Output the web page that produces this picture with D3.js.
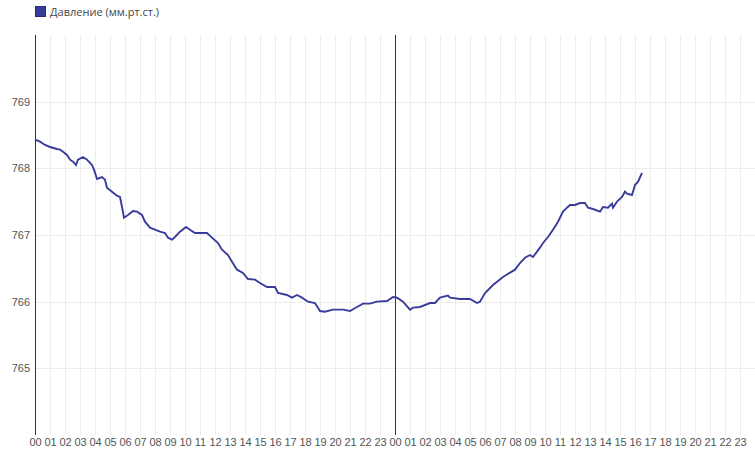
<!DOCTYPE html>
<html>
<head>
<meta charset="utf-8">
<script src="https://cdn.jsdelivr.net/npm/d3@7"></script>
<style>
  body { margin: 0; background: #fff; font-family: "Open Sans", sans-serif; }
  .grid line { stroke: #ececec; shape-rendering: crispEdges; }
  .tick text { fill: #555; font-size: 11px; }
</style>
</head>
<body>
<svg id="chart" width="755" height="451"></svg>
<script>
let seriesName = "Давление (мм.рт.ст.)";
let lineColor = "#3a3c9c";
let startDay = new Date(2024, 0, 1, 0, 0);

// hours since the first midnight
let hoursFromStart = [0, 0.33, 0.67, 1, 1.47, 1.67, 1.87, 2.13, 2.33, 2.53, 2.73, 2.87, 3.2, 3.47, 3.8, 3.93,
  4.13, 4.47, 4.67, 4.8, 5.13, 5.47, 5.67, 5.8, 5.93, 6.2, 6.53, 6.8, 7.13, 7.33, 7.67, 8, 8.33, 8.67, 8.87,
  9.13, 9.33, 9.67, 10.07, 10.33, 10.67, 11, 11.47, 11.8, 12.2, 12.47, 12.87, 13.13, 13.47, 13.87, 14.2,
  14.67, 15, 15.47, 16, 16.2, 16.8, 17.13, 17.47, 17.8, 18.2, 18.67, 19, 19.33, 19.87, 20.53, 21, 21.47,
  21.87, 22.33, 22.8, 23.47, 23.87, 24.13, 24.53, 25, 25.2, 25.67, 26.33, 26.67, 27, 27.53, 27.67, 28.33,
  29, 29.47, 29.67, 30, 30.53, 31.2, 32, 32.33, 32.67, 33, 33.2, 33.47, 33.67, 33.87, 34.2, 34.53, 34.87,
  35.2, 35.47, 35.67, 36, 36.33, 36.67, 36.87, 37.2, 37.67, 37.87, 38.2, 38.47, 38.53, 38.8, 39.13, 39.33,
  39.47, 39.8, 40, 40.2, 40.47];

let pressure = [768.43, 768.40, 768.35, 768.32, 768.29, 768.28, 768.25, 768.20, 768.13, 768.10, 768.05, 768.13,
  768.17, 768.13, 768.05, 767.98, 767.84, 767.87, 767.83, 767.71, 767.65, 767.59, 767.57, 767.42, 767.26,
  767.30, 767.36, 767.35, 767.30, 767.20, 767.11, 767.08, 767.05, 767.03, 766.96, 766.93, 766.97, 767.05,
  767.12, 767.08, 767.03, 767.03, 767.03, 766.96, 766.88, 766.78, 766.70, 766.60, 766.48, 766.43, 766.34,
  766.33, 766.28, 766.22, 766.22, 766.13, 766.10, 766.06, 766.10, 766.06, 766.00, 765.98, 765.86, 765.85,
  765.88, 765.88, 765.86, 765.92, 765.97, 765.97, 766.00, 766.01, 766.07, 766.06, 766.00, 765.88, 765.91,
  765.92, 765.98, 765.98, 766.06, 766.09, 766.06, 766.04, 766.04, 765.98, 766.00, 766.13, 766.25, 766.37,
  766.48, 766.58, 766.66, 766.70, 766.67, 766.75, 766.81, 766.88, 766.97, 767.08, 767.20, 767.35, 767.41,
  767.45, 767.45, 767.48, 767.48, 767.41, 767.39, 767.35, 767.42, 767.41, 767.47, 767.41, 767.50, 767.57,
  767.65, 767.62, 767.60, 767.75, 767.80, 767.93];

let yTicks = [765, 766, 767, 768, 769];

let data = hoursFromStart.map(function(h, i) {
  return { t: d3.timeMinute.offset(startDay, Math.round(h * 60)), v: pressure[i] };
});

let svg = d3.select("#chart");
let plotLeft = 35, plotRight = 755, plotTop = 35, plotBottom = 435;

let x = d3.scaleTime()
  .domain([startDay, d3.timeDay.offset(startDay, 2)])
  .range([plotLeft, plotRight]);
let y = d3.scaleLinear()
  .domain([764, 770])
  .range([plotBottom, plotTop]);

let hourTicks = d3.timeHour.range(startDay, d3.timeDay.offset(startDay, 2));

// vertical grid
svg.append("g").attr("class", "grid")
  .selectAll("line").data(hourTicks).enter().append("line")
  .attr("x1", d => Math.round(x(d)) + 0.5).attr("x2", d => Math.round(x(d)) + 0.5)
  .attr("y1", plotTop).attr("y2", plotBottom);

// horizontal grid
svg.append("g").attr("class", "grid")
  .selectAll("line").data(yTicks).enter().append("line")
  .attr("x1", plotLeft).attr("x2", plotRight)
  .attr("y1", d => Math.round(y(d)) + 0.5).attr("y2", d => Math.round(y(d)) + 0.5);

// y axis labels
let yAxis = svg.append("g")
  .attr("transform", "translate(" + plotLeft + ",0)")
  .call(d3.axisLeft(y).tickValues(yTicks).tickFormat(d3.format("d")).tickSize(0).tickPadding(5));
yAxis.select(".domain").remove();

// x axis labels
let xAxis = svg.append("g")
  .attr("transform", "translate(0," + plotBottom + ")")
  .call(d3.axisBottom(x).tickValues(hourTicks).tickFormat(d3.timeFormat("%H")).tickSize(0).tickPadding(3));
xAxis.select(".domain").remove();

// left axis line and midnight line
svg.append("line")
  .attr("x1", plotLeft + 0.5).attr("x2", plotLeft + 0.5)
  .attr("y1", plotTop).attr("y2", plotBottom)
  .attr("stroke", "#333");
svg.append("line")
  .attr("x1", Math.round(x(d3.timeDay.offset(startDay, 1))) + 0.5)
  .attr("x2", Math.round(x(d3.timeDay.offset(startDay, 1))) + 0.5)
  .attr("y1", plotTop).attr("y2", plotBottom)
  .attr("stroke", "#333");

// pressure line
let line = d3.line()
  .x(d => x(d.t))
  .y(d => y(d.v));
svg.append("path")
  .datum(data)
  .attr("fill", "none")
  .attr("stroke", lineColor)
  .attr("stroke-width", 1.9)
  .attr("stroke-linejoin", "miter")
  .attr("d", line);

// legend
let legend = svg.append("g").attr("transform", "translate(35,6)");
legend.append("rect")
  .attr("x", 0.5).attr("y", 0.5).attr("width", 10).attr("height", 10)
  .attr("fill", lineColor).attr("stroke", "#2a2c7a");
legend.append("text")
  .attr("x", 15).attr("y", 9.5)
  .attr("font-size", 11).attr("fill", "#444")
  .text(seriesName);
</script>
</body>
</html>
